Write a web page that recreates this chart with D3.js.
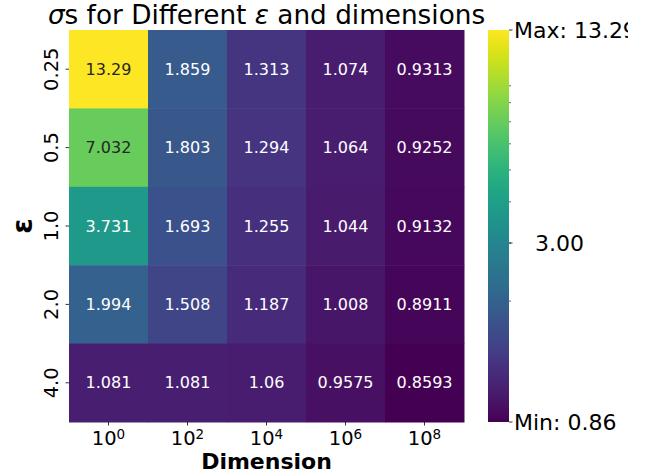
<!DOCTYPE html>
<html>
<head>
<meta charset="utf-8">
<script src="https://cdn.jsdelivr.net/npm/d3@7"></script>
<style>
   body { margin: 0; background: #fff; }
   svg text { font-family: "DejaVu Sans", sans-serif; }
</style>
</head>
<body>
<div id="chart"></div>
<script>
var epsilons = ["0.25", "0.5", "1.0", "2.0", "4.0"];
var dimExponents = [0, 2, 4, 6, 8];
var sigmas = [
   [13.29, 1.859, 1.313, 1.074, 0.9313],
   [7.032, 1.803, 1.294, 1.064, 0.9252],
   [3.731, 1.693, 1.255, 1.044, 0.9132],
   [1.994, 1.508, 1.187, 1.008, 0.8911],
   [1.081, 1.081, 1.06, 0.9575, 0.8593]
];
var sigmaLabels = [
   ["13.29", "1.859", "1.313", "1.074", "0.9313"],
   ["7.032", "1.803", "1.294", "1.064", "0.9252"],
   ["3.731", "1.693", "1.255", "1.044", "0.9132"],
   ["1.994", "1.508", "1.187", "1.008", "0.8911"],
   ["1.081", "1.081", "1.06", "0.9575", "0.8593"]
];
var cbarTicks = [0.8593, 3, 13.29];
var cbarTickLabels = ["Min: 0.86", "3.00", "Max: 13.29"];
var cbarMinorTicks = [2, 3, 4, 5, 6, 7, 8, 9];

(function () {
   "use strict";

   var width = 654, height = 473,
      hm = {left: 69, right: 464, top: 30, bottom: 422},
      cb = {left: 488, right: 509},
      vmin = d3.min(sigmas, function (r) { return d3.min(r); }),
      vmax = d3.max(sigmas, function (r) { return d3.max(r); });

   var svg = d3.select("#chart").append("svg")
      .attr("width", width)
      .attr("height", height);

   var x = d3.scaleBand().domain(dimExponents).range([hm.left, hm.right]),
      y = d3.scaleBand().domain(epsilons).range([hm.top, hm.bottom]),
      norm = d3.scaleLog().domain([vmin, vmax]).range([0, 1]).clamp(true),
      color = function (v) { return d3.interpolateViridis(norm(v)); };

   // seaborn style text colour from luminance
   function textColor(c) {
      var rgb = d3.rgb(c),
         lin = [rgb.r, rgb.g, rgb.b].map(function (v) {
            v /= 255;
            return v <= 0.03928 ? v / 12.92 : Math.pow((v + 0.055) / 1.055, 2.4);
         }),
         lum = 0.2126 * lin[0] + 0.7152 * lin[1] + 0.0722 * lin[2];
      return lum > 0.408 ? "#262626" : "#ffffff";
   }

   var cells = [];
   sigmas.forEach(function (row, i) {
      row.forEach(function (v, j) {
         cells.push({eps: epsilons[i], dim: dimExponents[j], v: v, label: sigmaLabels[i][j]});
      });
   });

   svg.append("g").selectAll("rect")
      .data(cells)
      .join("rect")
      .attr("x", function (d) { return x(d.dim); })
      .attr("y", function (d) { return y(d.eps); })
      .attr("width", x.bandwidth() + 0.5)
      .attr("height", y.bandwidth() + 0.5)
      .attr("fill", function (d) { return color(d.v); });

   svg.append("g").selectAll("text")
      .data(cells)
      .join("text")
      .attr("x", function (d) { return x(d.dim) + x.bandwidth() / 2; })
      .attr("y", function (d) { return y(d.eps) + y.bandwidth() / 2; })
      .attr("dy", "0.35em")
      .attr("text-anchor", "middle")
      .attr("font-size", "16px")
      .attr("fill", function (d) { return textColor(color(d.v)); })
      .text(function (d) { return d.label; });

   // x axis
   var xAxis = svg.append("g")
      .attr("transform", "translate(0," + hm.bottom + ")")
      .call(d3.axisBottom(x).tickSize(3.5).tickFormat(""));
   xAxis.select(".domain").remove();
   xAxis.selectAll("line").attr("stroke", "#000").attr("stroke-width", 0.8);
   xAxis.selectAll(".tick").each(function (d) {
      var t = d3.select(this).append("text")
         .attr("y", 23)
         .attr("fill", "#000")
         .attr("text-anchor", "middle")
         .attr("font-size", "19.5px");
      t.append("tspan").text("10");
      t.append("tspan").attr("dy", "-0.45em").attr("font-size", "13.5px").text(d);
   });

   // y axis
   var yAxis = svg.append("g")
      .attr("transform", "translate(" + hm.left + ",0)")
      .call(d3.axisLeft(y).tickSize(3.5).tickFormat(""));
   yAxis.select(".domain").remove();
   yAxis.selectAll("line").attr("stroke", "#000").attr("stroke-width", 0.8);
   yAxis.selectAll(".tick").append("text")
      .attr("transform", "translate(-11,0) rotate(-90)")
      .attr("text-anchor", "middle")
      .attr("fill", "#000")
      .attr("font-size", "19.5px")
      .text(function (d) { return d; });

   // axis titles
   svg.append("text")
      .attr("x", (hm.left + hm.right) / 2)
      .attr("y", 469)
      .attr("text-anchor", "middle")
      .attr("font-size", "22px")
      .attr("font-weight", "bold")
      .text("Dimension");

   svg.append("text")
      .attr("transform", "translate(32," + (hm.top + hm.bottom) / 2 + ") rotate(-90)")
      .attr("text-anchor", "middle")
      .attr("font-size", "28px")
      .attr("font-weight", "bold")
      .text("\u03b5");

   // title
   var title = svg.append("text")
      .attr("x", (hm.left + hm.right) / 2)
      .attr("y", 24)
      .attr("text-anchor", "middle")
      .attr("font-size", "26.3px");
   title.append("tspan").attr("font-style", "italic").text("\u03c3");
   title.append("tspan").text("s for Different ");
   title.append("tspan").attr("font-style", "italic").text("\u03b5");
   title.append("tspan").text(" and dimensions");

   // colorbar
   var cbY = d3.scaleLog().domain([vmin, vmax]).range([hm.bottom, hm.top]);
   var defs = svg.append("defs");
   var grad = defs.append("linearGradient")
      .attr("id", "cbgrad")
      .attr("x1", 0).attr("y1", 1).attr("x2", 0).attr("y2", 0);
   grad.selectAll("stop")
      .data(d3.range(0, 1.0001, 0.02))
      .join("stop")
      .attr("offset", function (t) { return t; })
      .attr("stop-color", function (t) { return d3.interpolateViridis(t); });
   // the saved figure cuts the max label
   defs.append("clipPath").attr("id", "cbclip")
      .append("rect")
      .attr("x", 0).attr("y", 0)
      .attr("width", 628).attr("height", height);

   svg.append("rect")
      .attr("x", cb.left)
      .attr("y", hm.top)
      .attr("width", cb.right - cb.left)
      .attr("height", hm.bottom - hm.top)
      .attr("fill", "url(#cbgrad)");

   var cbAxis = svg.append("g")
      .attr("clip-path", "url(#cbclip)")
      .append("g")
      .attr("transform", "translate(" + cb.right + ",0)");
   cbAxis.selectAll("line.minor")
      .data(cbarMinorTicks)
      .join("line")
      .attr("class", "minor")
      .attr("x1", 0).attr("x2", 2)
      .attr("y1", function (d) { return cbY(d); })
      .attr("y2", function (d) { return cbY(d); })
      .attr("stroke", "#000")
      .attr("stroke-width", 0.6);
   cbAxis.selectAll("line.major")
      .data(cbarTicks)
      .join("line")
      .attr("class", "major")
      .attr("x1", 0).attr("x2", 3.5)
      .attr("y1", function (d) { return cbY(d); })
      .attr("y2", function (d) { return cbY(d); })
      .attr("stroke", "#000")
      .attr("stroke-width", 0.8);
   cbAxis.selectAll("text")
      .data(cbarTicks)
      .join("text")
      .attr("x", function (d, i) { return i === 1 ? 26 : 5; })
      .attr("y", function (d) { return cbY(d); })
      .attr("dy", "0.36em")
      .attr("font-size", "22px")
      .attr("fill", "#000")
      .text(function (d, i) { return cbarTickLabels[i]; });
}());
</script>
</body>
</html>
